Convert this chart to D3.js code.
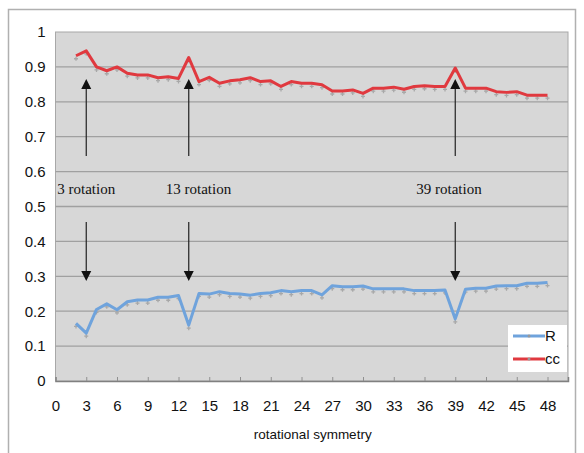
<!DOCTYPE html>
<html><head><meta charset="utf-8">
<script src="https://cdn.jsdelivr.net/npm/d3@7"></script>
<style>body{margin:0;background:#fff}svg{display:block}</style>
</head><body>
<script>
const xs = d3.range(2, 49);
const ccValues = [0.932,0.946,0.900,0.889,0.900,0.882,0.877,0.877,0.869,0.872,0.867,0.927,0.858,0.870,0.853,0.860,
  0.863,0.869,0.858,0.860,0.844,0.858,0.853,0.853,0.849,0.831,0.831,0.834,0.824,0.839,0.839,0.842,
  0.836,0.844,0.846,0.844,0.844,0.897,0.839,0.839,0.839,0.829,0.827,0.829,0.819,0.819,0.819];
const rValues = [0.165,0.137,0.205,0.221,0.204,0.227,0.232,0.232,0.240,0.240,0.245,0.160,0.251,0.249,0.256,0.251,
  0.249,0.246,0.251,0.253,0.259,0.256,0.259,0.259,0.247,0.273,0.270,0.270,0.272,0.264,0.264,0.264,
  0.264,0.259,0.259,0.259,0.261,0.178,0.263,0.266,0.266,0.272,0.273,0.273,0.280,0.280,0.282];
const xTicks = d3.range(0, 49, 3);
const yTicks = d3.range(0, 11).map(d => d / 10);
const annotations = [{x: 3, label: "3 rotation"}, {x: 13, label: "13 rotation"}, {x: 39, label: "39 rotation"}];
const seriesNames = ["R", "cc"];
const colors = {R: "#6fa3dc", cc: "#e0393f"};

const W = 584, H = 453;
const svg = d3.select("body").append("svg").attr("width", W).attr("height", H);
const L = 55.5, R = 568, T = 32, B = 381;
const x = d3.scaleLinear().domain([0, 50]).range([L, R]);
const y = d3.scaleLinear().domain([0, 1]).range([B, T]);

// outer frame
svg.append("path").attr("d", `M8.5,453 V9.5 H575.5 V453`).attr("fill", "none").attr("stroke", "#b0b0b0").attr("stroke-width", 1.5);

// plot background
svg.append("rect").attr("x", L).attr("y", T).attr("width", R - L).attr("height", B - T)
  .attr("fill", "#d7d7d7").attr("stroke", "#a8a8a8").attr("stroke-width", 1);

// gridlines
svg.append("g").selectAll("line").data(yTicks.filter(d => d > 0 && d < 1)).join("line")
  .attr("x1", L).attr("x2", R).attr("y1", d => y(d)).attr("y2", d => y(d))
  .attr("stroke", "#a0a0a0").attr("stroke-width", 1.3);

const font = "Liberation Sans, Arial, sans-serif";
// axes
const xAxis = svg.append("g").attr("transform", `translate(0,${B})`)
  .call(d3.axisBottom(x).tickValues(xTicks).tickSize(-4).tickPadding(19).tickFormat(d3.format("d")));
xAxis.select(".domain").attr("stroke", "#808080").attr("stroke-width", 1.5);
xAxis.selectAll(".tick line").attr("stroke", "#909090");
xAxis.selectAll("text").attr("font-family", font).attr("font-size", 15).attr("fill", "#111");

const yAxis = svg.append("g").attr("transform", `translate(${L},0)`)
  .call(d3.axisLeft(y).tickValues(yTicks).tickSize(0).tickPadding(10).tickFormat(d => d === 0 ? "0" : d === 1 ? "1" : d3.format(".1f")(d)));
yAxis.select(".domain").remove();
yAxis.selectAll("text").attr("font-family", font).attr("font-size", 15).attr("fill", "#111");

svg.append("text").attr("x", (L + R) / 2 + 1).attr("y", 439).attr("text-anchor", "middle")
  .attr("font-family", font).attr("font-size", 13.5).attr("fill", "#111")
  .text("rotational symmetry");

// series
const series = [{name: "R", values: rValues}, {name: "cc", values: ccValues}];
const line = d3.line().x((d, i) => x(xs[i])).y(d => y(d));
series.forEach(s => {
  const g = svg.append("g");
  g.selectAll("path.m").data(s.values).join("path")
    .attr("d", (d, i) => `M${x(xs[i]) - 2},${y(d) + 3} h4 M${x(xs[i])},${y(d) + 1} v4`)
    .attr("stroke", "#a8a8a8").attr("stroke-width", 1.3).attr("fill", "none");
  g.append("path").datum(s.values).attr("d", line).attr("fill", "none")
    .attr("stroke", colors[s.name]).attr("stroke-width", 3).attr("stroke-linejoin", "round");
});

// annotations
const labelOffsets = [-29, -23, -39];
const ann = svg.append("g");
annotations.forEach((a, i) => {
  const ax = x(a.x);
  ann.append("line").attr("x1", ax).attr("x2", ax).attr("y1", 156).attr("y2", 88).attr("stroke", "#222").attr("stroke-width", 1.2);
  ann.append("path").attr("d", `M${ax},79 L${ax - 5},89 L${ax + 5},89 Z`).attr("fill", "#111");
  ann.append("line").attr("x1", ax).attr("x2", ax).attr("y1", 222).attr("y2", 272).attr("stroke", "#222").attr("stroke-width", 1.2);
  ann.append("path").attr("d", `M${ax},281 L${ax - 5},271 L${ax + 5},271 Z`).attr("fill", "#111");
  ann.append("text").attr("x", ax + labelOffsets[i]).attr("y", 194)
    .attr("font-family", "Liberation Serif, Times New Roman, serif").attr("font-size", 15).attr("fill", "#111")
    .text(a.label);
});

// legend
const lg = svg.append("g");
lg.append("rect").attr("x", 508).attr("y", 325).attr("width", 59).attr("height", 47).attr("fill", "#fff");
seriesNames.forEach((n, i) => {
  const ly = 336 + i * 23;
  lg.append("line").attr("x1", 513).attr("x2", 545).attr("y1", ly).attr("y2", ly).attr("stroke", colors[n]).attr("stroke-width", 3);
  lg.append("circle").attr("cx", 529).attr("cy", ly).attr("r", 1.5).attr("fill", "#999");
  lg.append("text").attr("x", 545).attr("y", ly + 5).attr("font-family", font)
    .attr("font-size", 15).attr("fill", "#111").text(n);
});
</script>
</body></html>
